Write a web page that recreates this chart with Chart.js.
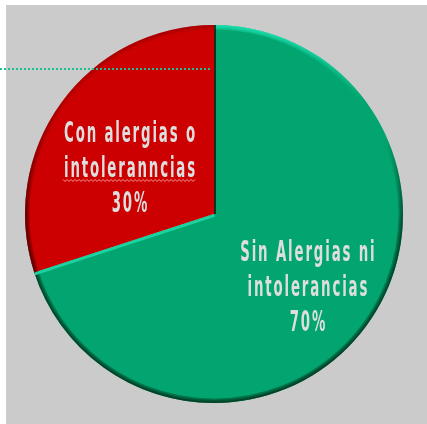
<!DOCTYPE html>
<html>
<head>
<meta charset="utf-8">
<script src="https://cdn.jsdelivr.net/npm/chart.js@4.4.1/dist/chart.umd.min.js"></script>
<style>
html,body{margin:0;padding:0;background:#fff;}
body{width:427px;height:424px;position:relative;overflow:hidden;}
#box{position:absolute;left:6px;top:5px;width:421px;height:419px;background:#cbcbcb;}
#dots{position:absolute;left:0;top:68px;width:210px;height:0;border-top:2px dotted #1cc193;}
</style>
</head>
<body>
<div id="box"><canvas id="pieChart" width="421" height="419"></canvas></div>
<div id="dots"></div>
<script>

// ===============================
// DATA
// ===============================

const categories = ["Sin Alergias ni intolerancias","Con alergias o intoleranncias"]
const values = [70,30]
const labelLines = [["Sin Alergias ni","intolerancias"],["Con alergias o","intoleranncias"]]
const sliceColors = ["#02a56f","#cc0000"]

// ===============================
// 3D RIM + LABELS
// ===============================

const rimStops = [
[[0,"rgba(30,235,185,1)"],[0.2,"rgba(30,235,185,0)"],[0.3,"rgba(0,40,20,0)"],[0.55,"rgba(0,40,20,0.85)"],[1,"rgba(0,40,20,1)"]],
[[0,"rgba(120,0,0,0.4)"],[0.2,"rgba(120,0,0,0.3)"],[0.5,"rgba(60,0,0,0.8)"],[1,"rgba(60,0,0,1)"]]
]

const labelOffsets = [{x:17,y:26},{x:-8,y:19}]

const piePlugin = {
id:"pieDecor",
afterDatasetsDraw(chart){

const ctx = chart.ctx
const arcs = chart.getDatasetMeta(0).data

arcs.forEach((arc,i)=>{

const p = arc.getProps(["x","y","startAngle","endAngle","outerRadius"])

ctx.save()
ctx.beginPath()
ctx.moveTo(p.x,p.y)
ctx.arc(p.x,p.y,p.outerRadius,p.startAngle,p.endAngle)
ctx.closePath()
ctx.clip()

const g = ctx.createLinearGradient(0,p.y-p.outerRadius,0,p.y+p.outerRadius)
rimStops[i].forEach(s=>g.addColorStop(s[0],s[1]))
ctx.strokeStyle = g

;[9,6,3].forEach(w=>{
ctx.globalAlpha = 0.4
ctx.lineWidth = w
ctx.beginPath()
ctx.arc(p.x,p.y,p.outerRadius,0,Math.PI*2)
ctx.stroke()
})

// lit edge on the green side of the lower boundary
if(i===0){
ctx.globalAlpha = 1
ctx.strokeStyle = "#19d3a0"
ctx.lineWidth = 6
ctx.beginPath()
ctx.moveTo(p.x,p.y)
ctx.lineTo(p.x+Math.cos(p.endAngle)*p.outerRadius,p.y+Math.sin(p.endAngle)*p.outerRadius)
ctx.stroke()

ctx.strokeStyle = "rgba(10,30,20,0.85)"
ctx.lineWidth = 4
ctx.beginPath()
ctx.moveTo(p.x,p.y)
ctx.lineTo(p.x+Math.cos(p.startAngle)*p.outerRadius,p.y+Math.sin(p.startAngle)*p.outerRadius)
ctx.stroke()
}

ctx.restore()

})

// labels
arcs.forEach((arc,i)=>{

const tp = arc.tooltipPosition()
const cx = tp.x + labelOffsets[i].x
const midY = tp.y + labelOffsets[i].y
const lines = [...labelLines[i], values[i]+"%"]

lines.forEach((line,k)=>{

const by = midY + (k-1)*35

ctx.save()
ctx.translate(cx,by)
ctx.scale(0.46,1)
ctx.font = "bold 29px 'DejaVu Sans'"
ctx.letterSpacing = "4px"
ctx.textAlign = "center"
ctx.textBaseline = "alphabetic"
ctx.fillStyle = "#dedede"
ctx.fillText(line,2,0)
const w = ctx.measureText(line).width*0.46
ctx.restore()

// spell-check squiggle under the misspelt word
if(line === "intoleranncias"){
ctx.save()
ctx.strokeStyle = "rgba(255,175,175,0.85)"
ctx.lineWidth = 1
ctx.beginPath()
let up = true
for(let xx = cx-w/2; xx <= cx+w/2; xx += 2){
const yy = by + (up ? 2 : 4)
if(xx === cx-w/2) ctx.moveTo(xx,yy)
else ctx.lineTo(xx,yy)
up = !up
}
ctx.stroke()
ctx.restore()
}

})

})

}
}

// ===============================
// CHART
// ===============================

new Chart(document.getElementById("pieChart"),{

type:"pie",

data:{
labels:categories,
datasets:[{
data:values,
backgroundColor:sliceColors,
borderWidth:0
}]
},

options:{
responsive:false,
animation:false,
layout:{
padding:{left:19,right:24,top:20,bottom:21}
},
plugins:{
legend:{display:false},
tooltip:{enabled:false}
}
},

plugins:[piePlugin]

})

</script>
</body>
</html>
